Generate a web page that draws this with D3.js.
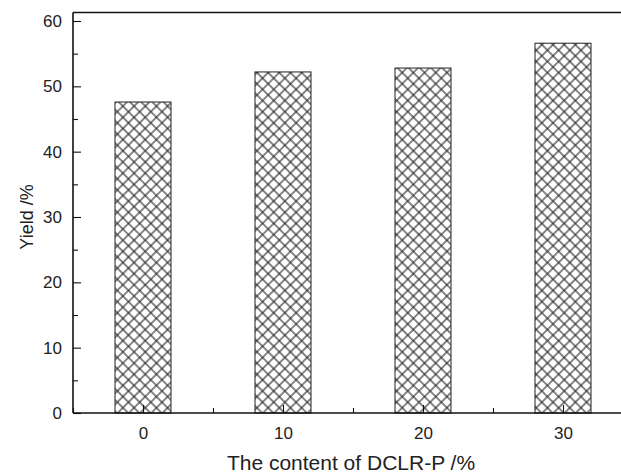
<!DOCTYPE html>
<html><head><meta charset="utf-8">
<script src="https://cdn.jsdelivr.net/npm/d3@7"></script>
<style>body{margin:0;background:#fff}svg{display:block}</style></head><body>
<svg id="c" width="621" height="473"></svg>
<script>
const categories = [0, 10, 20, 30];
const yieldValues = [47.6, 52.2, 52.8, 56.6];
const xTicks = [0, 10, 20, 30];
const xMinorTicks = [-5, 5, 15, 25, 35];
const yTicks = [0, 10, 20, 30, 40, 50, 60];
const yMinorTicks = [5, 15, 25, 35, 45, 55];
const xLabel = "The content of DCLR-P /%";
const yLabel = "Yield /%";

const svg = d3.select("#c");
const pL = 73, pR = 633, pT = 12.5, pB = 413;
const x = d3.scaleLinear().domain([-5, 35]).range([pL, pR]);
const y = d3.scaleLinear().domain([0, 61.3]).range([pB, pT]);

const defs = svg.append("defs");
const pat = defs.append("pattern").attr("id", "hatch")
  .attr("patternUnits", "userSpaceOnUse").attr("width", 7.9).attr("height", 7.9)
  .attr("patternTransform", "rotate(45)");
pat.append("rect").attr("width", 7.9).attr("height", 7.9).attr("fill", "#fff");
pat.append("line").attr("x1", 3.95).attr("x2", 3.95).attr("y1", 0).attr("y2", 7.9)
  .attr("stroke", "#222").attr("stroke-width", 1.1);
pat.append("line").attr("y1", 3.95).attr("y2", 3.95).attr("x1", 0).attr("x2", 7.9)
  .attr("stroke", "#222").attr("stroke-width", 1.1);

const data = categories.map((c, i) => ({c, v: yieldValues[i]}));
svg.append("g").selectAll("rect").data(data).join("rect")
  .attr("x", d => x(d.c - 2)).attr("width", d => x(d.c + 2) - x(d.c - 2))
  .attr("y", d => y(d.v)).attr("height", d => y(0) - y(d.v))
  .attr("fill", "url(#hatch)").attr("stroke", "#222").attr("stroke-width", 1);

const font = "'Liberation Sans', Arial, sans-serif";
const xa = svg.append("g").attr("transform", `translate(0,${pB})`)
  .call(d3.axisBottom(x).tickValues(xTicks).tickSize(-8).tickPadding(14).tickFormat(d3.format("d")));
svg.append("g").attr("transform", `translate(0,${pB})`)
  .call(d3.axisBottom(x).tickValues(xMinorTicks).tickSize(-5).tickFormat(""))
  .call(g => g.select(".domain").remove());
const ya = svg.append("g").attr("transform", `translate(${pL},0)`)
  .call(d3.axisLeft(y).tickValues(yTicks).tickSize(-8).tickPadding(11).tickFormat(d3.format("d")));
svg.append("g").attr("transform", `translate(${pL},0)`)
  .call(d3.axisLeft(y).tickValues(yMinorTicks).tickSize(-5).tickFormat(""))
  .call(g => g.select(".domain").remove());

svg.selectAll(".domain").attr("stroke", "#111").attr("stroke-width", 1.6);
svg.selectAll(".tick line").attr("stroke", "#111").attr("stroke-width", 1.1);
svg.selectAll("g").attr("font-size", null).attr("font-family", null);
svg.selectAll(".tick text").style("font-family", font).style("font-size", "17px").attr("fill", "#222");
xa.select(".domain").attr("d", `M${pL},0H${pR}`);
ya.select(".domain").attr("d", `M0,${pB}V${pT}`);

svg.append("line").attr("x1", pL).attr("x2", pR).attr("y1", y(61.3)).attr("y2", y(61.3))
  .attr("stroke", "#111").attr("stroke-width", 1.6);

svg.append("text").attr("x", (pL + pR) / 2 - 2).attr("y", 470).attr("text-anchor", "middle")
  .style("font-family", font).style("font-size", "21px").attr("fill", "#222").text(xLabel);
svg.append("text").attr("transform", `translate(33,${y(30)}) rotate(-90)`).attr("text-anchor", "middle")
  .style("font-family", font).style("font-size", "18px").attr("fill", "#222").text(yLabel);
</script>
</body></html>
